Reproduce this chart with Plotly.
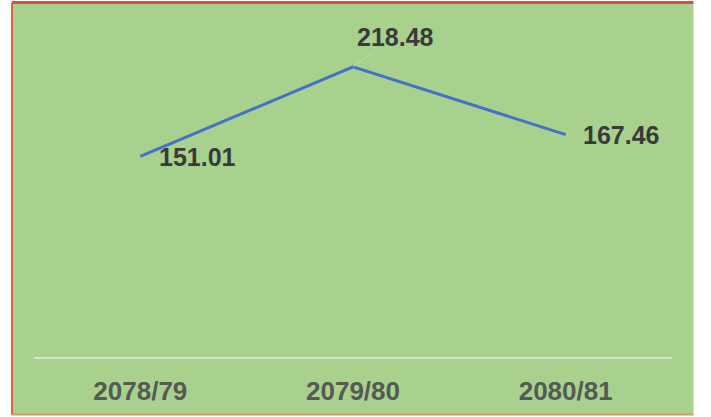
import plotly.graph_objects as go

categories = ["2078/79", "2079/80", "2080/81"]
values = [151.01, 218.48, 167.46]
label_texts = ["151.01", "218.48", "167.46"]

W, H = 711, 417
ML, MR, MT, MB = 33.5, 38.5, 25, 60
PW, PH = W - ML - MR, H - MT - MB

def px(x):
    return (x - ML) / PW

def py(y):
    return (H - MB - y) / PH

fig = go.Figure()
fig.add_trace(go.Scatter(
    x=categories, y=values, mode="lines",
    line=dict(color="#4472C4", width=3),
    hoverinfo="skip", showlegend=False,
))

label_font = dict(family="Liberation Sans, Arial, sans-serif", size=25, color="#3a3a3a", weight="bold")
offsets = [dict(xanchor="left", xshift=17, yshift=-1, showarrow=False),
           dict(xanchor="center", showarrow=True, ax=42, ay=-30, arrowhead=0,
                arrowwidth=1, arrowcolor="rgba(200,210,190,0.9)"),
           dict(xanchor="left", xshift=15, yshift=0, showarrow=False)]
for c, v, t, o in zip(categories, values, label_texts, offsets):
    fig.add_annotation(x=c, y=v, text=t, font=label_font, yanchor="middle", **o)

shapes = [
    dict(type="rect", xref="paper", yref="paper", x0=px(12), x1=px(694), y0=py(415), y1=py(2),
         fillcolor="#a9d18e", line=dict(width=0), layer="below"),
    dict(type="line", xref="paper", yref="paper", x0=px(11.5), x1=px(694), y0=py(2.5), y1=py(2.5),
         line=dict(color="#d9503c", width=3), layer="above"),
    dict(type="line", xref="paper", yref="paper", x0=px(11.5), x1=px(11.5), y0=py(415), y1=py(2.5),
         line=dict(color="#e0603c", width=2), layer="above"),
    dict(type="line", xref="paper", yref="paper", x0=px(11.5), x1=px(694), y0=py(414.5), y1=py(414.5),
         line=dict(color="#c9a06a", width=2), layer="above"),
]

fig.update_layout(
    width=W, height=H,
    margin=dict(l=ML, r=MR, t=MT, b=MB, pad=0),
    paper_bgcolor="white", plot_bgcolor="rgba(0,0,0,0)",
    shapes=shapes,
    xaxis=dict(type="category", range=[-0.5, 2.5], showgrid=False, zeroline=False,
               showline=True, linecolor="#d4e6c8", linewidth=2, ticks="",
               tickfont=dict(family="Liberation Sans, Arial, sans-serif", size=26,
                             color="#555a55", weight="bold"),
               ticklabelstandoff=10),
    yaxis=dict(range=[0, 250], visible=False, showgrid=False, zeroline=False),
)

fig.write_html("out.html")
